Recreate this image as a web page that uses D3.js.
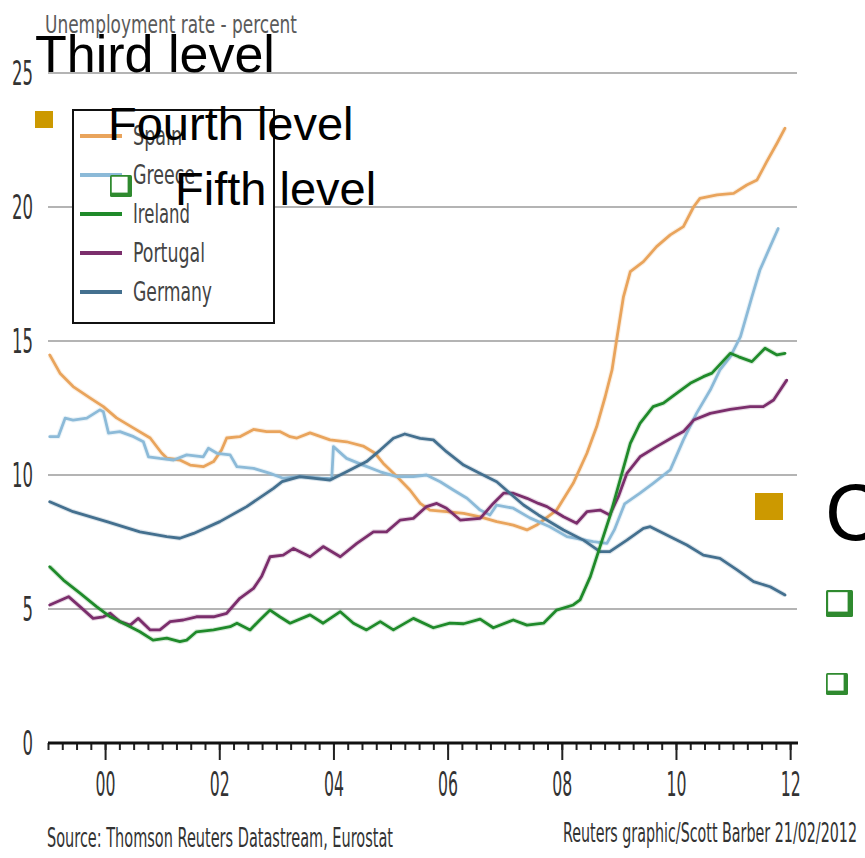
<!DOCTYPE html>
<html><head><meta charset="utf-8">
<script src="https://cdn.jsdelivr.net/npm/d3@7"></script>
<style>html,body{margin:0;padding:0;background:#fff;overflow:hidden}</style>
</head><body>
<svg id="c" width="865" height="858"></svg>
<script>
// ---- data (decimal year, unemployment %) ----
const seriesNames = ["Spain","Greece","Ireland","Portugal","Germany"];
const seriesColors = ["#E9A45C","#8CBAD8","#1F8A2A","#7B2E6C","#44708F"];

const spain = [[1999.03,14.48],[1999.21,13.8],[1999.44,13.3],[1999.74,12.87],[1999.97,12.55],[2000.2,12.13],[2000.5,11.75],[2000.79,11.38],[2000.99,10.82],[2001.08,10.63],[2001.31,10.56],[2001.49,10.37],[2001.72,10.31],[2001.9,10.5],[2002.04,10.93],[2002.13,11.38],[2002.36,11.43],[2002.6,11.7],[2002.83,11.62],[2003.06,11.62],[2003.24,11.43],[2003.36,11.38],[2003.59,11.57],[2003.94,11.31],[2004.23,11.24],[2004.52,11.08],[2004.73,10.81],[2004.87,10.44],[2005.11,9.94],[2005.34,9.44],[2005.52,8.94],[2005.69,8.69],[2005.98,8.63],[2006.28,8.57],[2006.57,8.44],[2006.86,8.26],[2007.15,8.13],[2007.39,7.95],[2007.56,8.13],[2007.91,8.69],[2008.2,9.69],[2008.44,10.81],[2008.61,11.8],[2008.76,12.92],[2008.88,13.92],[2008.96,15.04],[2009.08,16.65],[2009.2,17.59],[2009.43,17.96],[2009.66,18.52],[2009.9,18.96],[2010.13,19.27],[2010.31,20.01],[2010.42,20.32],[2010.72,20.45],[2011.01,20.51],[2011.24,20.82],[2011.42,21.01],[2011.59,21.69],[2011.77,22.38],[2011.91,22.94]];

const greece = [[1999.03,11.43],[1999.18,11.43],[1999.3,12.12],[1999.44,12.05],[1999.68,12.12],[1999.91,12.43],[1999.97,12.36],[2000.06,11.56],[2000.26,11.62],[2000.5,11.43],[2000.67,11.24],[2000.76,10.68],[2000.96,10.62],[2001.2,10.56],[2001.43,10.75],[2001.72,10.68],[2001.81,11.0],[2001.96,10.81],[2002.19,10.75],[2002.31,10.31],[2002.6,10.25],[2002.89,10.06],[2003.12,9.88],[2003.41,9.94],[2003.77,9.88],[2003.97,9.86],[2004.0,11.06],[2004.23,10.62],[2004.52,10.37],[2004.82,10.12],[2005.11,9.94],[2005.4,9.94],[2005.63,10.0],[2005.87,9.75],[2006.1,9.44],[2006.34,9.13],[2006.57,8.69],[2006.74,8.51],[2006.86,8.88],[2007.15,8.76],[2007.44,8.4],[2007.79,8.07],[2008.09,7.7],[2008.55,7.51],[2008.79,7.45],[2008.92,7.95],[2009.1,8.92],[2009.37,9.32],[2009.6,9.69],[2009.9,10.19],[2010.13,11.31],[2010.36,12.3],[2010.6,13.17],[2010.77,13.92],[2010.95,14.41],[2011.13,15.16],[2011.33,16.65],[2011.47,17.65],[2011.65,18.52],[2011.79,19.2]];

const ireland = [[1999.03,6.58],[1999.27,6.08],[1999.56,5.59],[1999.85,5.09],[2000.09,4.71],[2000.38,4.4],[2000.61,4.15],[2000.84,3.84],[2001.08,3.91],[2001.31,3.78],[2001.43,3.84],[2001.6,4.15],[2001.9,4.22],[2002.19,4.34],[2002.31,4.47],[2002.54,4.22],[2002.71,4.59],[2002.89,4.96],[2003.06,4.71],[2003.24,4.47],[2003.59,4.78],[2003.82,4.47],[2004.12,4.9],[2004.35,4.47],[2004.58,4.22],[2004.82,4.53],[2005.05,4.22],[2005.4,4.65],[2005.75,4.3],[2006.04,4.47],[2006.28,4.45],[2006.57,4.62],[2006.8,4.3],[2007.15,4.59],[2007.39,4.4],[2007.68,4.47],[2007.91,4.96],[2008.2,5.15],[2008.32,5.34],[2008.5,6.21],[2008.67,7.33],[2008.84,8.44],[2009.02,9.81],[2009.2,11.18],[2009.37,11.93],[2009.6,12.55],[2009.78,12.68],[2010.01,13.05],[2010.25,13.42],[2010.48,13.67],[2010.63,13.8],[2010.95,14.54],[2011.1,14.41],[2011.33,14.23],[2011.56,14.73],[2011.77,14.48],[2011.91,14.54]];

const portugal = [[1999.03,5.15],[1999.36,5.46],[1999.56,5.09],[1999.79,4.65],[1999.97,4.71],[2000.09,4.84],[2000.26,4.53],[2000.44,4.4],[2000.58,4.65],[2000.79,4.22],[2000.96,4.22],[2001.14,4.53],[2001.37,4.59],[2001.6,4.71],[2001.9,4.71],[2002.13,4.84],[2002.36,5.4],[2002.6,5.77],[2002.74,6.21],[2002.89,6.95],[2003.12,7.01],[2003.3,7.26],[2003.59,6.95],[2003.82,7.33],[2004.12,6.95],[2004.41,7.45],[2004.7,7.88],[2004.93,7.88],[2005.17,8.32],[2005.4,8.38],[2005.63,8.82],[2005.81,8.94],[2005.98,8.76],[2006.22,8.32],[2006.57,8.38],[2006.8,8.94],[2006.98,9.32],[2007.15,9.32],[2007.39,9.13],[2007.59,8.94],[2007.74,8.82],[2008.03,8.44],[2008.26,8.2],[2008.44,8.63],[2008.67,8.69],[2008.84,8.51],[2008.99,9.19],[2009.14,10.06],[2009.37,10.68],[2009.66,11.06],[2009.96,11.43],[2010.13,11.62],[2010.31,12.05],[2010.6,12.3],[2010.95,12.45],[2011.3,12.55],[2011.53,12.55],[2011.71,12.8],[2011.94,13.54]];

const germany = [[1999.03,9.0],[1999.44,8.63],[2000.03,8.26],[2000.61,7.88],[2001.08,7.7],[2001.31,7.64],[2001.55,7.82],[2002.01,8.26],[2002.48,8.82],[2002.95,9.5],[2003.1,9.75],[2003.41,9.94],[2003.94,9.81],[2004.23,10.12],[2004.58,10.5],[2004.82,10.93],[2005.05,11.37],[2005.25,11.53],[2005.52,11.37],[2005.75,11.31],[2005.98,10.87],[2006.28,10.37],[2006.57,10.06],[2006.86,9.75],[2007.09,9.32],[2007.33,8.88],[2007.59,8.51],[2008.03,7.95],[2008.38,7.57],[2008.67,7.14],[2008.84,7.14],[2009.14,7.57],[2009.43,8.01],[2009.55,8.07],[2009.9,7.7],[2010.19,7.39],[2010.48,7.01],[2010.77,6.89],[2011.07,6.46],[2011.36,6.02],[2011.65,5.83],[2011.91,5.52]];

const seriesData = [spain, greece, ireland, portugal, germany];
const drawOrder = [0, 1, 3, 4, 2];

const yTicks = [0, 5, 10, 15, 20, 25];
const xMajorYears = [2000, 2002, 2004, 2006, 2008, 2010, 2012];
const xTickLabels = ["00","02","04","06","08","10","12"];

const titleText = "Unemployment rate - percent";
const sourceText = "Source: Thomson Reuters Datastream, Eurostat";
const creditText = "Reuters graphic/Scott Barber 21/02/2012";

// ---- drawing ----
const svg = d3.select("#c");
svg.append("rect").attr("width",865).attr("height",858).attr("fill","#fff");

const x = d3.scaleLinear().domain([1999, 2012.12]).range([48, 797]);
const y = d3.scaleLinear().domain([0, 25]).range([743, 73]);
const NARROW = "'Liberation Sans Narrow','DejaVu Sans Condensed','Liberation Sans',Arial,sans-serif";
const SANS = "'Liberation Sans',Arial,Helvetica,sans-serif";

// gridlines
svg.append("g").selectAll("line").data(yTicks.filter(d => d > 0)).join("line")
  .attr("x1", 48).attr("x2", 797)
  .attr("y1", d => y(d)).attr("y2", d => y(d))
  .attr("stroke", "#b4b4b4").attr("stroke-width", 2);

// y labels
svg.append("g").selectAll("text").data(yTicks).join("text")
  .attr("x", 33).attr("y", d => y(d) + 12)
  .attr("text-anchor", "end")
  .attr("font-family", NARROW).attr("font-size", 33).attr("fill", "#333")
  .attr("textLength", d => String(d).length * 10.5).attr("lengthAdjust", "spacingAndGlyphs")
  .text(d => d);

// title
svg.append("text").attr("x", 45).attr("y", 33)
  .attr("font-family", NARROW).attr("font-size", 25).attr("fill", "#5a5a5a")
  .attr("textLength", 252).attr("lengthAdjust", "spacingAndGlyphs")
  .text(titleText);

// x axis: quarterly minor ticks, biennial major ticks
const quarters = d3.range(0, 53).map(i => 1999 + i / 4);
const minorAxis = d3.axisBottom(x).tickValues(quarters).tickSize(7).tickFormat("").tickSizeOuter(0);
const gMin = svg.append("g").attr("transform", "translate(0,743)").call(minorAxis);
gMin.select(".domain").remove();
gMin.selectAll(".tick line").attr("stroke", "#222").attr("stroke-width", 2);
const majorAxis = d3.axisBottom(x).tickValues(xMajorYears).tickSize(17)
  .tickFormat((d, i) => xTickLabels[i]).tickSizeOuter(0);
const gMaj = svg.append("g").attr("transform", "translate(0,743)").call(majorAxis);
gMaj.select(".domain").remove();
gMaj.selectAll(".tick line").attr("stroke", "#222").attr("stroke-width", 2);
gMaj.selectAll(".tick text").attr("y", 53).attr("dy", null)
  .attr("font-family", NARROW).attr("font-size", 34).attr("fill", "#333")
  .attr("textLength", 20).attr("lengthAdjust", "spacingAndGlyphs");
svg.append("line").attr("x1", 48).attr("x2", 798).attr("y1", 743).attr("y2", 743)
  .attr("stroke", "#111").attr("stroke-width", 3);

// series lines
const line = d3.line().x(d => x(d[0])).y(d => y(d[1]));
const gLines = svg.append("g");
drawOrder.forEach(i => {
  gLines.append("path").datum(seriesData[i])
    .attr("d", line).attr("fill", "none")
    .attr("stroke", seriesColors[i]).attr("stroke-width", 5).attr("stroke-opacity", 0.18)
    .attr("stroke-linejoin", "round");
  gLines.append("path").datum(seriesData[i])
    .attr("d", line).attr("fill", "none")
    .attr("stroke", seriesColors[i]).attr("stroke-width", 2.8)
    .attr("stroke-linejoin", "round").attr("stroke-linecap", "round");
});

// legend
const lg = svg.append("g");
lg.append("rect").attr("x", 73).attr("y", 110).attr("width", 201).attr("height", 213)
  .attr("fill", "#fff").attr("stroke", "#111").attr("stroke-width", 2);
const legendY = [136, 175, 214, 253, 292];
const legendW = [49, 62, 57, 72, 79];
seriesNames.forEach((n, i) => {
  lg.append("line").attr("x1", 80).attr("x2", 122).attr("y1", legendY[i]).attr("y2", legendY[i])
    .attr("stroke", seriesColors[i]).attr("stroke-width", 4);
  lg.append("text").attr("x", 133).attr("y", legendY[i] + 9)
    .attr("font-family", NARROW).attr("font-size", 26).attr("fill", "#444")
    .attr("textLength", legendW[i]).attr("lengthAdjust", "spacingAndGlyphs")
    .text(n);
});

// footers
svg.append("text").attr("x", 47).attr("y", 847)
  .attr("font-family", NARROW).attr("font-size", 26).attr("fill", "#333")
  .attr("textLength", 346).attr("lengthAdjust", "spacingAndGlyphs").text(sourceText);
svg.append("text").attr("x", 563).attr("y", 842)
  .attr("font-family", NARROW).attr("font-size", 26).attr("fill", "#333")
  .attr("textLength", 294).attr("lengthAdjust", "spacingAndGlyphs").text(creditText);

// ---- slide overlay text (placeholder outline levels) ----
const ov = svg.append("g");
function hollowSquare(px, py, s) {
  ov.append("rect").attr("x", px).attr("y", py).attr("width", s).attr("height", s)
    .attr("rx", 1.5).attr("fill", "#2F8A2F");
  const t = Math.max(1.5, s * 0.08), b = Math.max(3.5, s * 0.2);
  ov.append("rect").attr("x", px + t).attr("y", py + t)
    .attr("width", s - t - b).attr("height", s - t - b).attr("fill", "#fff");
}
ov.append("text").attr("x", 35).attr("y", 72).attr("font-family", SANS)
  .attr("font-size", 52).attr("fill", "#000").text("Third level");
ov.append("rect").attr("x", 35).attr("y", 111).attr("width", 18).attr("height", 17).attr("fill", "#CC9900");
ov.append("text").attr("x", 108).attr("y", 140).attr("font-family", SANS)
  .attr("font-size", 47).attr("fill", "#000").text("Fourth level");
hollowSquare(110, 175, 22);
ov.append("text").attr("x", 175).attr("y", 205).attr("font-family", SANS)
  .attr("font-size", 47).attr("fill", "#000").text("Fifth level");
ov.append("rect").attr("x", 755).attr("y", 493).attr("width", 28).attr("height", 27).attr("fill", "#CC9900");
ov.append("text").attr("x", 825).attr("y", 540).attr("font-family", SANS)
  .attr("font-size", 80).attr("fill", "#000").text("C");
hollowSquare(826, 590, 27);
hollowSquare(826, 673, 22);
</script>
</body></html>
